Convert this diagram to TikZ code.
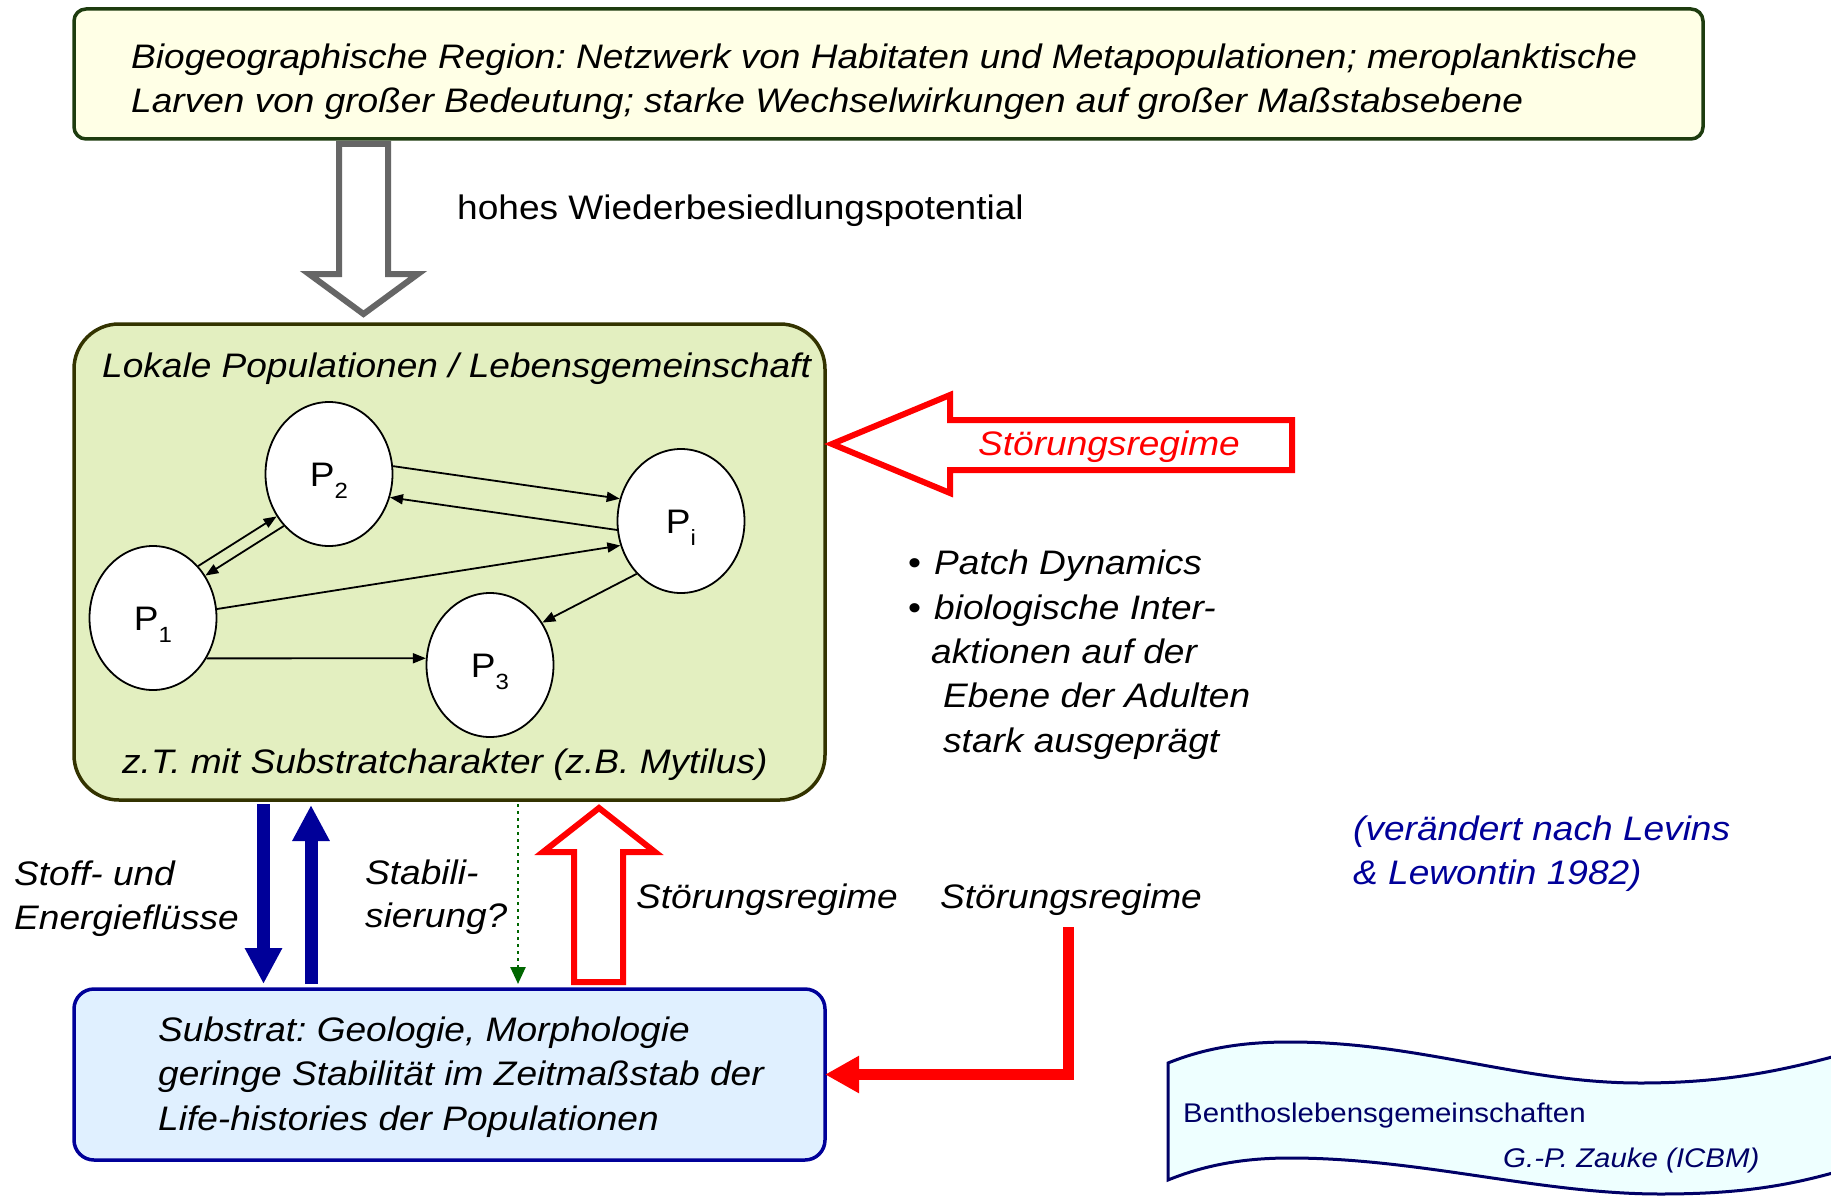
\documentclass[tikz,border=0pt]{standalone}
\usepackage{fontspec}
\setmainfont{Liberation Sans}[FakeStretch=1.09]
\usetikzlibrary{arrows.meta,calc,shapes.geometric}
\definecolor{topfill}{RGB}{255,255,230}
\definecolor{topline}{RGB}{30,60,15}
\definecolor{midfill}{RGB}{227,239,192}
\definecolor{midline}{RGB}{51,51,0}
\definecolor{subfill}{RGB}{224,240,255}
\definecolor{navyblue}{RGB}{0,0,153}
\definecolor{banfill}{RGB}{238,255,255}
\definecolor{banline}{RGB}{0,0,102}
\definecolor{grayarrow}{RGB}{102,102,102}
\definecolor{dotgreen}{RGB}{0,102,0}
\newcommand\poplabel[1]{P\raisebox{-12pt}{\fontsize{22}{22}\selectfont #1}\hspace{16pt}}
\frenchspacing
\begin{document}
\begin{tikzpicture}[x=1pt,y=-1pt,
  box/.style={rectangle, inner sep=0pt, outer sep=0pt},
  txt/.style={inner sep=0pt, anchor=base west, font=\fontsize{34}{44}\selectfont},
  itxt/.style={inner sep=0pt, anchor=base west, font=\fontsize{34}{44}\selectfont\itshape},
  pop/.style={ellipse, draw, fill=white, line width=1.8pt, minimum width=127pt,
    minimum height=144pt, inner sep=0pt, text height=25pt, text depth=0pt,
    font=\fontsize{34}{40}\selectfont},
  link/.style={line width=1.8pt, -{Triangle[length=13pt,width=10pt]}},
  flow/.style={navyblue, line width=13pt, -{Triangle[length=36pt,width=35pt]}},
  hollow/.style={line width=6pt, fill=white, line join=miter},
]
\useasboundingbox (0,0) rectangle (1831,1196);
\fill[white] (0,0) rectangle (1831,1196);

% top box
\node[box, draw=topline, fill=topfill, line width=3.5pt, rounded corners=12pt,
  minimum width=1629pt, minimum height=130pt] (region) at (888.5,74) {};
\node[itxt] (t1) at (131,69) {Biogeographische Region: Netzwerk von Habitaten und Metapopulationen; meroplanktische};
\node[itxt] (t2) at (131,113) {Larven von großer Bedeutung; starke Wechselwirkungen auf großer Maßstabsebene};

% gray hollow arrow
\draw[hollow, draw=grayarrow] (339,144) -- (339,274) -- (309,274) -- (363.5,314)
  -- (418,274) -- (388,274) -- (388,144) -- cycle;
\node[txt] (wieder) at (457,219) {hohes Wiederbesiedlungspotential};

% middle box
\node[box, draw=midline, fill=midfill, line width=3.5pt, rounded corners=45pt,
  minimum width=751pt, minimum height=476pt] (local) at (449.5,562) {};
\node[itxt] (lokal) at (102,377) {Lokale Populationen / Lebensgemeinschaft};
\node[itxt] (ztm) at (122,773) {z.T. mit Substratcharakter (z.B. Mytilus)};

% populations
\node[pop] (P2) at (329,474) {\poplabel{2}};
\node[pop] (Pi) at (681,521) {\poplabel{i}};
\node[pop] (P1) at (153,618) {\poplabel{1}};
\node[pop] (P3) at (490,665) {\poplabel{3}};

\draw[link] (P2.7) -- (Pi.160);
\draw[link] (Pi.188) -- (P2.-21);
\draw[link] (P1.49) -- (P2.219);
\draw[link] (P2.229) -- (P1.39);
\draw[link] (P1.8) -- (Pi.202);
\draw[link] (Pi.230) -- (P3.39);
\draw[link] (P1.-37) -- (P3.174);

% red left hollow arrow
\draw[hollow, draw=red] (832,444) -- (950,395) -- (950,420) -- (1292,420)
  -- (1292,470) -- (950,470) -- (950,493) -- cycle;
\node[itxt, text=red] (stoer1) at (978,455) {Störungsregime};

% bullets
\node[itxt] (b1) at (908,574) {{\upshape •}\hspace{13pt}Patch Dynamics};
\node[itxt] (b2) at (908,619) {{\upshape •}\hspace{13pt}biologische Inter-};
\node[itxt] (b3) at (931,663) {aktionen auf der};
\node[itxt] (b4) at (943,707) {Ebene der Adulten};
\node[itxt] (b5) at (943,752) {stark ausgeprägt};

% note
\node[itxt, text=navyblue] (n1) at (1353,840) {(verändert nach Levins};
\node[itxt, text=navyblue] (n2) at (1353,884) {\& Lewontin 1982)};

% bottom box
\node[box, draw=navyblue, fill=subfill, line width=3.5pt, rounded corners=20pt,
  minimum width=751pt, minimum height=171pt] (substrate) at (449.5,1074.5) {};
\node[itxt] (s1) at (158,1041) {Substrat: Geologie, Morphologie};
\node[itxt] (s2) at (158,1085) {geringe Stabilität im Zeitmaßstab der};
\node[itxt] (s3) at (158,1130) {Life-histories der Populationen};

% connectors between local and substrate
\coordinate (xd) at (263.5,0);
\coordinate (xu) at (311,0);
\coordinate (xg) at (518,0);
\draw[flow, shorten <=4pt, shorten >=5pt] (local.south -| xd) -- (substrate.north -| xd);
\draw[flow, shorten <=5pt, shorten >=5pt] (substrate.north -| xu) -- (local.south -| xu);
\draw[dotgreen, line width=2.5pt, dash pattern=on 2.5pt off 4.5pt,
  -{Triangle[length=17pt,width=15pt]}, shorten <=4pt, shorten >=5pt]
  (local.south -| xg) -- (substrate.north -| xg);

% red hollow up arrow
\draw[hollow, draw=red] (574,982) -- (574,852) -- (543,852) -- (599,808)
  -- (655,852) -- (623,852) -- (623,982) -- cycle;

\node[itxt] (stoff1) at (14,885) {Stoff- und};
\node[itxt] (stoff2) at (14,929) {Energieflüsse};
\node[itxt] (stab1) at (365,884) {Stabili-};
\node[itxt] (stab2) at (365,927) {sierung?};
\node[itxt] (stoer2) at (636,908) {Störungsregime};
\node[itxt] (stoer3) at (940,908) {Störungsregime};

% red L arrow
\coordinate (lstart) at (1068,927);
\draw[red, line width=11pt, line join=miter, -{Triangle[length=34pt,width=35pt]}]
  (lstart) |- (substrate.east);

% banner
\draw[banline, fill=banfill, line width=3pt]
  (1168,1063) .. controls (1210,1046) and (1250,1042) .. (1290,1042)
  .. controls (1420,1042) and (1520,1083) .. (1640,1083)
  .. controls (1720,1083) and (1780,1072) .. (1850,1052)
  -- (1850,1168)
  .. controls (1790,1186) and (1740,1194) .. (1660,1194)
  .. controls (1540,1194) and (1420,1158) .. (1290,1158)
  .. controls (1250,1158) and (1210,1163) .. (1168,1180) -- cycle;
\node[inner sep=0pt, anchor=base west, font=\fontsize{27}{32}\selectfont, text=banline]
  (ben) at (1183,1122) {Benthoslebensgemeinschaften};
\node[inner sep=0pt, anchor=base west, font=\fontsize{27}{32}\selectfont\itshape, text=banline]
  (zauke) at (1503,1167) {G.-P. Zauke (ICBM)};
\end{tikzpicture}
\end{document}
